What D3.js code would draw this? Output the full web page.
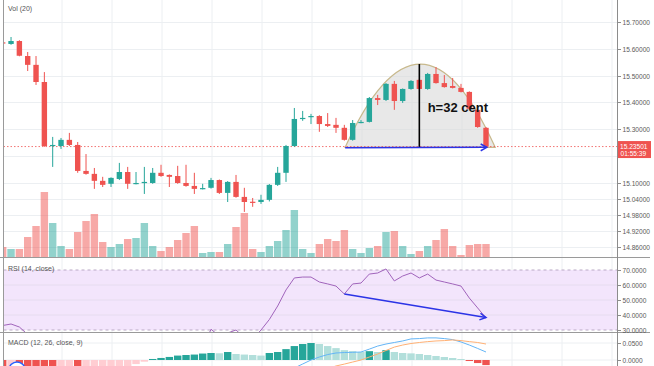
<!DOCTYPE html>
<html>
<head>
<meta charset="utf-8">
<script src="https://cdn.jsdelivr.net/npm/d3@7"></script>
<style>
  body { margin: 0; background: #fff; }
  text { font-family: "Liberation Sans", Arial, sans-serif; }
</style>
</head>
<body>
<svg id="chart" width="654" height="366"></svg>
<script>
// candles, oldest first (the first one is cut by the left edge)
var opens  = [15.624,15.618,15.629,15.573,15.540,15.476,15.237,15.237,15.260,15.241,15.144,15.133,15.107,15.096,15.114,15.140,15.096,15.099,15.099,15.137,15.129,15.125,15.099,15.088,15.077,15.081,15.110,15.062,15.103,15.047,15.029,15.028,15.036,15.092,15.137,15.237,15.340,15.346,15.349,15.319,15.316,15.305,15.260,15.325,15.327,15.416,15.409,15.469,15.405,15.450,15.484,15.450,15.506,15.472,15.461,15.454,15.439,15.372,15.305];
var highs  = [15.626,15.644,15.632,15.588,15.573,15.513,15.271,15.267,15.286,15.252,15.207,15.155,15.122,15.120,15.174,15.159,15.140,15.159,15.155,15.167,15.131,15.163,15.167,15.137,15.096,15.118,15.112,15.106,15.129,15.081,15.043,15.055,15.095,15.159,15.241,15.379,15.368,15.357,15.352,15.360,15.342,15.316,15.334,15.334,15.420,15.428,15.472,15.480,15.452,15.483,15.488,15.510,15.532,15.502,15.491,15.469,15.441,15.383,15.308];
var lows   = [15.620,15.615,15.572,15.517,15.465,15.234,15.159,15.226,15.237,15.137,15.130,15.077,15.084,15.084,15.110,15.077,15.094,15.058,15.096,15.122,15.084,15.096,15.085,15.058,15.075,15.078,15.058,15.028,15.044,14.991,15.010,15.021,15.030,15.088,15.103,15.234,15.331,15.319,15.290,15.308,15.286,15.257,15.257,15.322,15.325,15.390,15.405,15.372,15.398,15.447,15.447,15.447,15.470,15.455,15.452,15.437,15.370,15.305,15.232];
var closes = [15.621,15.629,15.574,15.540,15.476,15.237,15.241,15.260,15.241,15.144,15.133,15.107,15.092,15.118,15.140,15.096,15.099,15.103,15.137,15.125,15.122,15.099,15.088,15.077,15.080,15.110,15.062,15.103,15.047,15.028,15.027,15.036,15.092,15.137,15.237,15.338,15.342,15.349,15.319,15.312,15.305,15.260,15.323,15.327,15.416,15.409,15.469,15.405,15.450,15.480,15.450,15.506,15.472,15.457,15.454,15.439,15.376,15.308,15.235];
var volumes = [10,8,8,20,31,65,34,11,8,25,36,43,15,10,13,18,19,34,11,6,10,17,24,31,4,5,5,13,30,44,8,5,11,16,27,47,8,4,13,18,16,27,8,4,9,11,25,26,11,3,6,11,17,28,11,2,12,13,13];

// RSI (14, close)
var rsi = [33,34,32,27,24,18,20,21,20,17,18,17,17,19,21,19,20,21,23,22,21,20,19,18,18,30.5,26,28,30,25,24,30,37,46,56.7,64.7,65.3,65.3,62,60.7,59.3,54,60.7,61.3,67.3,68,70.7,62.7,66,68,64.7,67.3,63.3,62,60.7,59.3,51.3,44.7,38];

// MACD (12, 26, close, 9)
var macdHist = [-0.028,-0.027,-0.029,-0.032,-0.036,-0.045,-0.048,-0.046,-0.044,-0.047,-0.045,-0.042,-0.038,-0.033,-0.028,-0.020,-0.012,-0.005,
  0.003,0.006,0.009,0.013,0.0147,0.016,0.019,0.0206,0.0198,0.0235,0.0176,0.016,0.0147,0.013,0.0206,0.0235,0.032,0.041,0.047,0.050,0.047,0.041,0.035,0.029,0.026,0.0235,0.026,0.0235,0.029,0.0235,0.0206,0.0195,0.0176,0.0147,0.0118,0.0088,0.0059,0.0029,
  -0.003,-0.009,-0.015];
var macdLine = [null,null,null,null,null,null,null,null,null,null,null,null,null,null,null,null,null,null,null,null,null,null,null,null,null,null,null,null,null,null,null,null,null,null,
  -0.035,-0.0235,-0.0118,0,0.0088,0.016,0.0206,0.022,0.0226,0.0235,0.032,0.041,0.047,0.0515,0.056,0.062,0.063,0.065,0.065,0.063,0.060,0.053,0.044,0.034,0.0235];
var signalLine = [null,null,null,null,null,null,null,null,null,null,null,null,null,null,null,null,null,null,null,null,null,null,null,null,null,null,null,null,null,null,null,null,null,null,null,null,null,null,null,
  -0.025,-0.0176,-0.012,-0.006,0,0.0088,0.0176,0.028,0.038,0.044,0.0485,0.0515,0.054,0.056,0.057,0.059,0.057,0.054,0.0515,0.047];

// axis ticks
var priceTicks = [15.7,15.6,15.5,15.4,15.3,15.2,15.1,15.04,14.98,14.92,14.86];
var priceTickLabels = ["15.70000","15.60000","15.50000","15.40000","15.30000","","15.10000","15.04000","14.98000","14.92000","14.86000"];
var rsiTicks = [70,60,50,40,30];
var rsiTickLabels = ["70.0000","60.0000","50.0000","40.0000","30.0000"];
var macdTicks = [0.05,0];
var macdTickLabels = ["0.0500","0.0000"];
var lastPrice = 15.23501;
var lastPriceLabel = "15.23501";
var countdownLabel = "01:55:39";

// drawings on the chart: rounded top, its height and the two arrows
var dome = {start: 41.1, peak: 50, end: 59.1, base: 15.232, top: 15.543};
var baseArrow = [{i: 41.1, p: 15.231}, {i: 58.1, p: 15.232}];
var heightText = {i: 51, p: 15.364, text: "h=32 cent"};
var rsiArrow = [{i: 41, v: 54}, {i: 58, v: 38.3}];

var up = "#26a69a", down = "#ef5350";
var W = 654, axisX = 617, left = 3.5;

var svg = d3.select("#chart");

var x = d3.scaleLinear().domain([0, 58]).range([2.7, 486]);
var y = d3.scaleLinear().domain([14.86, 15.7]).range([247, 22]);
var yVol = d3.scaleLinear().domain([0, 65]).range([257, 192]);
var yRsi = d3.scaleLinear().domain([30, 70]).range([330, 270]);
var yMacd = d3.scaleLinear().domain([0, 0.05]).range([360, 343]);

var candles = opens.map(function(o, i) {
  return {i: i, o: o, h: highs[i], l: lows[i], c: closes[i], v: volumes[i]};
});

// clip areas for the three panes
var defs = svg.append("defs");
[["clipMain", 0, 257], ["clipRsi", 258, 332], ["clipMacd", 333, 366]].forEach(function(c) {
  defs.append("clipPath").attr("id", c[0]).append("rect")
    .attr("x", left).attr("y", c[1]).attr("width", axisX - left).attr("height", c[2] - c[1]);
});

// vertical grid
var gridX = d3.range(62, axisX, 50);
svg.append("g").selectAll("line").data(gridX).enter().append("line")
  .attr("x1", function(d) { return d; }).attr("x2", function(d) { return d; })
  .attr("y1", 0).attr("y2", 366)
  .attr("stroke", "#eceff2").attr("stroke-width", 1);

// horizontal price grid
svg.append("g").selectAll("line").data(priceTicks).enter().append("line")
  .attr("x1", left).attr("x2", axisX)
  .attr("y1", function(d) { return Math.round(y(d)) + 0.5; })
  .attr("y2", function(d) { return Math.round(y(d)) + 0.5; })
  .attr("stroke", "#eceff2");

// ---------- main pane ----------
var main = svg.append("g").attr("clip-path", "url(#clipMain)");

// volume
main.selectAll("rect.vol").data(candles).enter().append("rect")
  .attr("class", "vol")
  .attr("x", function(d) { return x(d.i) - 3.7; })
  .attr("width", 7.4)
  .attr("y", function(d) { return yVol(d.v); })
  .attr("height", function(d) { return yVol(0) - yVol(d.v); })
  .attr("fill", function(d) { return d.c >= d.o ? up : down; })
  .attr("fill-opacity", 0.5);

// rounded top shape (parabola through base ends and the peak)
var dx0 = x(dome.start), dx1 = x(dome.end), dxp = x(dome.peak), dyb = y(dome.base), dyt = y(dome.top);
var domePath = d3.path();
domePath.moveTo(dx0, dyb);
domePath.quadraticCurveTo((dx0 + dx1) / 2, dyb - 2 * (dyb - dyt), dx1, dyb);
domePath.closePath();
main.append("path")
  .attr("d", domePath.toString())
  .attr("fill", "#d9d9d9").attr("fill-opacity", 0.6)
  .attr("stroke", "#c8b98c").attr("stroke-width", 1.2);

// last price line
main.append("line")
  .attr("x1", left).attr("x2", axisX)
  .attr("y1", y(lastPrice)).attr("y2", y(lastPrice))
  .attr("stroke", down).attr("stroke-width", 0.8).attr("stroke-dasharray", "1.5,2");

// candles
var cg = main.selectAll("g.candle").data(candles).enter().append("g");
cg.append("line")
  .attr("x1", function(d) { return x(d.i); }).attr("x2", function(d) { return x(d.i); })
  .attr("y1", function(d) { return y(d.h); }).attr("y2", function(d) { return y(d.l); })
  .attr("stroke", function(d) { return d.c >= d.o ? up : down; }).attr("stroke-width", 1);
cg.append("rect")
  .attr("x", function(d) { return x(d.i) - 2.7; })
  .attr("width", 5.4)
  .attr("y", function(d) { return y(Math.max(d.o, d.c)); })
  .attr("height", function(d) { return Math.max(1.2, Math.abs(y(d.o) - y(d.c))); })
  .attr("fill", function(d) { return d.c >= d.o ? up : down; });

// height line + text
main.append("line")
  .attr("x1", dxp).attr("x2", dxp)
  .attr("y1", dyt).attr("y2", dyb)
  .attr("stroke", "#000").attr("stroke-width", 1.6);
main.append("text")
  .attr("x", x(heightText.i)).attr("y", y(heightText.p))
  .attr("font-size", 13).attr("font-weight", "bold").attr("fill", "#111")
  .text(heightText.text);

function arrow(g, x1, y1, x2, y2) {
  var a = Math.atan2(y2 - y1, x2 - x1), L = 7, s = 0.5;
  g.append("line").attr("x1", x1).attr("y1", y1).attr("x2", x2).attr("y2", y2)
    .attr("stroke", "#2b33e6").attr("stroke-width", 1.5);
  g.append("path")
    .attr("d", "M" + (x2 - L * Math.cos(a - s)) + "," + (y2 - L * Math.sin(a - s)) +
      " L" + x2 + "," + y2 +
      " L" + (x2 - L * Math.cos(a + s)) + "," + (y2 - L * Math.sin(a + s)))
    .attr("fill", "none").attr("stroke", "#2b33e6").attr("stroke-width", 1.5);
}
arrow(main, x(baseArrow[0].i), y(baseArrow[0].p), x(baseArrow[1].i), y(baseArrow[1].p));

// ---------- RSI pane ----------
svg.append("rect")
  .attr("x", left).attr("width", axisX - left)
  .attr("y", yRsi(70)).attr("height", yRsi(30) - yRsi(70))
  .attr("fill", "#f3e5fc");
svg.append("g").selectAll("line").data(rsiTicks).enter().append("line")
  .attr("x1", left).attr("x2", axisX)
  .attr("y1", function(d) { return yRsi(d); }).attr("y2", function(d) { return yRsi(d); })
  .attr("stroke", function(d) { return (d == 70 || d == 30) ? "#b9a9c4" : "#e6dcef"; })
  .attr("stroke-dasharray", function(d) { return (d == 70 || d == 30) ? "3,3" : null; });

var rsiG = svg.append("g").attr("clip-path", "url(#clipRsi)");
rsiG.append("path").datum(rsi)
  .attr("d", d3.line().x(function(d, i) { return x(i); }).y(function(d) { return yRsi(d); }))
  .attr("fill", "none").attr("stroke", "#a064bb").attr("stroke-width", 1);
arrow(rsiG, x(rsiArrow[0].i), yRsi(rsiArrow[0].v), x(rsiArrow[1].i), yRsi(rsiArrow[1].v));

// ---------- MACD pane ----------
svg.append("g").selectAll("line").data(macdTicks).enter().append("line")
  .attr("x1", left).attr("x2", axisX)
  .attr("y1", function(d) { return yMacd(d); }).attr("y2", function(d) { return yMacd(d); })
  .attr("stroke", "#eceff2");

var macdG = svg.append("g").attr("clip-path", "url(#clipMacd)");
macdG.selectAll("rect").data(macdHist).enter().append("rect")
  .attr("x", function(d, i) { return x(i) - 3.7; })
  .attr("width", 7.4)
  .attr("y", function(d) { return yMacd(Math.max(0, d)); })
  .attr("height", function(d) { return Math.abs(yMacd(d) - yMacd(0)); })
  .attr("fill", function(d, i) {
    var prev = i > 0 ? macdHist[i - 1] : (d >= 0 ? -1 : 1);
    if (d >= 0) return d > prev ? "#26a69a" : "#b2dfdb";
    return d < prev ? "#ef5350" : "#ffcdd2";
  });
var mline = d3.line()
  .defined(function(d) { return d !== null; })
  .x(function(d, i) { return x(i); })
  .y(function(d) { return yMacd(d); });
macdG.append("path").datum(macdLine).attr("d", mline)
  .attr("fill", "none").attr("stroke", "#64b5f6").attr("stroke-width", 1);
macdG.append("path").datum(signalLine).attr("d", mline)
  .attr("fill", "none").attr("stroke", "#ffb074").attr("stroke-width", 1);

// little alert bubble at bottom left
macdG.append("circle").attr("cx", 17).attr("cy", 370).attr("r", 8)
  .attr("fill", "#fff").attr("stroke", "#2962ff").attr("stroke-width", 1.5);

// ---------- frame, separators, axis ----------
svg.append("line").attr("x1", left).attr("x2", left).attr("y1", 0).attr("y2", 366)
  .attr("stroke", "#9a9a9a");
[257.5, 332.5].forEach(function(s) {
  svg.append("line").attr("x1", 0).attr("x2", 650).attr("y1", s).attr("y2", s)
    .attr("stroke", "#9a9a9a");
});
svg.append("line").attr("x1", axisX + 0.5).attr("x2", axisX + 0.5).attr("y1", 0).attr("y2", 366)
  .attr("stroke", "#8c8c8c");

function axisLabels(ticks, labels, scale) {
  var g = svg.append("g");
  ticks.forEach(function(t, k) {
    if (!labels[k]) return;
    var yy = Math.round(scale(t)) + 0.5;
    g.append("line").attr("x1", axisX).attr("x2", axisX + 4).attr("y1", yy).attr("y2", yy).attr("stroke", "#8c8c8c");
    g.append("text").attr("x", axisX + 5.5).attr("y", yy + 2.3)
      .attr("font-size", 6.6).attr("fill", "#5a5a5a").text(labels[k]);
  });
}
axisLabels(priceTicks, priceTickLabels, y);
axisLabels(rsiTicks, rsiTickLabels, yRsi);
axisLabels(macdTicks, macdTickLabels, yMacd);

// last price tag
var ly = y(lastPrice);
svg.append("rect").attr("x", axisX + 1).attr("y", ly - 5.5).attr("width", 33).attr("height", 17)
  .attr("fill", down);
svg.append("text").attr("x", axisX + 3).attr("y", ly + 2).attr("font-size", 6.6).attr("fill", "#fff").text(lastPriceLabel);
svg.append("text").attr("x", axisX + 3.5).attr("y", ly + 9.5).attr("font-size", 6.6).attr("fill", "#fff").text(countdownLabel);

// pane titles
svg.append("text").attr("x", 8).attr("y", 10.5).attr("font-size", 7).attr("fill", "#555").text("Vol (20)");
svg.append("text").attr("x", 8).attr("y", 270.5).attr("font-size", 7).attr("fill", "#555").text("RSI (14, close)");
svg.append("text").attr("x", 8).attr("y", 344.5).attr("font-size", 7).attr("fill", "#555").text("MACD (12, 26, close, 9)");
</script>
</body>
</html>
